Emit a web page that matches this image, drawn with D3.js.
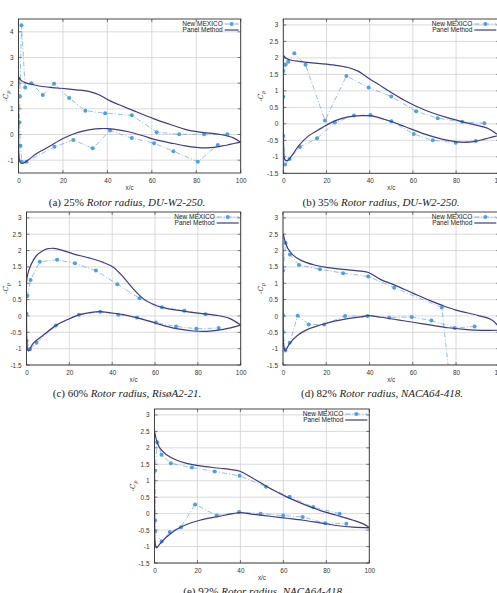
<!DOCTYPE html>
<html><head><meta charset="utf-8">
<script src="https://cdn.jsdelivr.net/npm/d3@7"></script>
<style>
html,body{margin:0;padding:0;background:#fff;overflow:hidden}
svg{display:block}
</style></head>
<body>
<script>
// ---------- DATA ----------
const xTicks = [0, 20, 40, 60, 80, 100];
const yTicksA = [-1, 0, 1, 2, 3, 4];
const yTicksB = [-1.5, -1, -0.5, 0, 0.5, 1, 1.5, 2, 2.5, 3];

const seriesNames = ["New MEXICO", "Panel Method"];

// (a) 25% DU-W2-250
const pmA = [[100,-0.3],[96.7,-0.13],[90.7,0.0],[81.7,0.09],[75,0.2],[69.7,0.35],[60.7,0.62],[51.7,0.93],[45,1.17],[41,1.32],[36.7,1.53],[32,1.67],[26,1.74],[21.7,1.78],[15,1.83],[10,1.88],[6.7,1.94],[3,2.02],[1,2.12],[0.4,2.22],[0.1,2.05],[0,1.0],[0.05,0],[0.2,-0.8],[0.7,-1.08],[1.7,-1.13],[3,-1.08],[5,-0.95],[8,-0.75],[11,-0.6],[14.2,-0.45],[18,-0.25],[21.7,-0.09],[25,0.03],[29,0.13],[33,0.2],[36.7,0.23],[40,0.23],[42.7,0.21],[47,0.15],[51.7,0.06],[56,-0.05],[60.7,-0.18],[65,-0.27],[69.7,-0.35],[75,-0.44],[80,-0.5],[84.7,-0.52],[88,-0.5],[90.7,-0.46],[94,-0.41],[97,-0.35],[100,-0.3]];
const mexA = [[94,0.01],[83.5,0.01],[72.3,0.01],[62.2,0.09],[51,0.75],[39,0.83],[30.1,0.93],[22.8,1.42],[16,1.98],[10.9,1.54],[5.8,2.0],[3,1.83],[1.35,4.26],[0.6,1.49],[0.45,0.48],[0.9,-0.44],[1.5,-1.07],[3.6,-1.06],[16.2,-0.48],[24.7,-0.21],[33.4,-0.54],[41.2,0.16],[51,-0.14],[61,-0.34],[69.7,-0.65],[80.7,-1.06],[89.7,-0.41]];

// (b) 35% DU-W2-250
const pmB = [[100,-0.35],[98.7,-0.3],[94.8,-0.14],[85.5,0.02],[76.3,0.18],[65.5,0.42],[56.2,0.71],[48.5,1.01],[44,1.2],[40,1.36],[37,1.5],[34.6,1.6],[30,1.71],[23.8,1.78],[14.5,1.84],[8,1.89],[3.7,1.93],[1,2.0],[0.3,2.06],[0,1.9],[0,1.0],[0.05,0],[0.2,-0.8],[0.6,-1.07],[1.7,-1.12],[3.7,-0.99],[6.8,-0.69],[11.4,-0.38],[17.6,-0.13],[23.8,0.09],[30,0.21],[36,0.25],[40.8,0.24],[48.5,0.1],[56.2,-0.08],[65.5,-0.31],[76.3,-0.5],[84,-0.56],[88,-0.54],[91.7,-0.49],[95,-0.43],[100,-0.35]];
const mexB = [[93.1,0.02],[82.8,0.06],[71.5,0.17],[61.5,0.38],[50,0.83],[39.5,1.1],[29.2,1.45],[19.3,0.1],[10.3,1.79],[5.1,2.14],[2.3,1.88],[1.1,1.8],[0.5,1.79],[0,1.6],[0,0.82],[0,-0.37],[0.8,-1.23],[2.9,-1.07],[7.7,-0.7],[15.6,-0.44],[23.9,0.04],[32.7,0.25],[40.3,0.27],[50,0.08],[60.4,-0.31],[69.2,-0.5],[79.8,-0.57],[89.1,-0.52]];

// (c) 60% RisoA2-21
const pmC = [[100,-0.28],[95,-0.08],[88.8,0.02],[81,0.08],[73.2,0.15],[65.4,0.23],[59.2,0.35],[54.5,0.53],[49.8,0.83],[45.2,1.19],[40.5,1.49],[35.8,1.64],[29.6,1.77],[21.8,1.9],[15.6,2.03],[12.5,2.07],[9.5,2.05],[7.8,2.0],[4.7,1.85],[1.6,1.49],[0.3,1.2],[0,1.0],[0,0],[0.2,-0.8],[0.6,-1.05],[1,-1.07],[3.1,-0.84],[7.8,-0.59],[14,-0.28],[20.2,-0.08],[24.9,0.04],[29.6,0.1],[34.3,0.13],[38.9,0.1],[45.2,0.04],[53,-0.08],[60.7,-0.23],[70,-0.39],[77.9,-0.46],[84,-0.47],[91.9,-0.41],[100,-0.28]];
const mexC = [[83.6,0.05],[73.7,0.16],[63.2,0.27],[52.8,0.54],[42.4,0.97],[32.4,1.39],[22.6,1.61],[14.3,1.72],[6.2,1.66],[1.9,1.1],[0.4,0.62],[0.1,0.6],[0,0.07],[0,-0.76],[1.6,-1.02],[4.7,-0.82],[13.7,-0.29],[24.5,0.04],[34.4,0.13],[42.8,0.04],[51.6,-0.05],[60.4,-0.2],[69.8,-0.32],[79.3,-0.39],[89.7,-0.37]];

// (d) 82% NACA64-418
const pmD = [[100,-0.43],[99,-0.27],[96,-0.1],[90,0.02],[80,0.18],[73.4,0.33],[68,0.47],[60,0.7],[51.4,0.95],[45,1.12],[39.5,1.33],[36,1.37],[30,1.41],[20.7,1.48],[14.5,1.56],[8.3,1.7],[4.5,1.87],[2.2,2.07],[0.9,2.3],[0.2,2.48],[0,2.5],[0,1.0],[0.05,0],[0.2,-0.8],[0.6,-1.0],[1.1,-1.06],[2.9,-0.86],[6.8,-0.59],[11.4,-0.41],[17.6,-0.27],[23.8,-0.16],[30,-0.08],[36.1,-0.03],[39.5,0.01],[45.4,-0.04],[53.1,-0.12],[60.8,-0.2],[68.6,-0.28],[76.3,-0.36],[84,-0.41],[91.7,-0.44],[100,-0.43]];
const mexD = [[80,-3.7],[73.4,0.26],[51.4,0.86],[39.4,1.21],[27.8,1.31],[17.1,1.43],[7.4,1.56],[3.2,1.88],[1.2,2.23],[0,1.39],[0,0.02],[0,-0.49],[1.1,-1.06],[3.1,-0.82],[6.8,0.01],[11.9,-0.26],[19,-0.26],[28.7,0.0],[39.1,0.0],[49.1,-0.05],[59.5,-0.03],[68.6,-0.14],[79.4,-0.37],[88.6,-0.32]];

// (e) 92% NACA64-418
const pmE = [[100,-0.42],[97.2,-0.31],[92.5,-0.2],[84.8,-0.05],[77,0.1],[69.3,0.29],[61.5,0.51],[53.7,0.77],[46,1.07],[39.8,1.29],[36.6,1.33],[30.4,1.38],[21.1,1.45],[14.9,1.53],[10.2,1.63],[5.6,1.79],[2.5,1.99],[0.9,2.24],[0.2,2.45],[0,2.5],[0,1.0],[0.05,0],[0.2,-0.8],[0.5,-0.98],[0.9,-1.04],[2.5,-0.92],[5.6,-0.71],[10.2,-0.48],[14.9,-0.33],[21.1,-0.2],[30.4,-0.08],[36.6,0.0],[39.8,0.03],[46,-0.02],[53.7,-0.08],[61.5,-0.14],[69.3,-0.2],[77,-0.28],[84.8,-0.36],[92.5,-0.41],[100,-0.43]];
const mexE = [[86.2,0.0],[73.9,0.2],[62.9,0.51],[51.9,0.82],[39.6,1.15],[28,1.28],[17.4,1.4],[7.6,1.53],[3.3,1.79],[1.2,2.17],[0.3,1.31],[0.3,-0.2],[0.3,-0.53],[3.3,-0.85],[7.1,-0.56],[12.3,-0.41],[18.9,0.28],[29,-0.06],[39.4,0.05],[49.4,0.0],[59.9,-0.06],[69,-0.1],[79.5,-0.29],[89.3,-0.31]];

const captions = [
  ["(a) 25% ", "Rotor radius, DU-W2-250."],
  ["(b) 35% ", "Rotor radius, DU-W2-250."],
  ["(c) 60% ", "Rotor radius, RisøA2-21."],
  ["(d) 82% ", "Rotor radius, NACA64-418."],
  ["(e) 92% ", "Rotor radius, NACA64-418."]
];

// ---------- LAYOUT ----------
const panels = [
  {pm: pmA, mex: mexA, yDom: [-1.5, 4.5], yTicks: yTicksA, L: 18.5, R: 240.7, T: 19, B: 173, cap: captions[0], capX: 127, capY: 206, legOff: 18, ylabX: 4},
  {pm: pmB, mex: mexB, yDom: [-1.5, 3.18], yTicks: yTicksB, L: 283.3, R: 499.3, T: 19, B: 173.3, cap: captions[1], capX: 381, capY: 206, legOff: 27, ylabX: 259},
  {pm: pmC, mex: mexC, yDom: [-1.5, 3.18], yTicks: yTicksB, L: 26.5, R: 240.7, T: 212, B: 365, cap: captions[2], capX: 127, capY: 397, legOff: 26, ylabX: 4},
  {pm: pmD, mex: mexD, yDom: [-1.5, 3.18], yTicks: yTicksB, L: 283, R: 499.3, T: 212, B: 365, cap: captions[3], capX: 382, capY: 397, legOff: 27, ylabX: 259},
  {pm: pmE, mex: mexE, yDom: [-1.5, 3.18], yTicks: yTicksB, L: 154.5, R: 369.3, T: 409, B: 563, cap: captions[4], capX: 264, capY: 595, legOff: 26, ylabX: 131}
];

const W = 497, H = 593;
const svg = d3.select("body").append("svg").attr("width", W).attr("height", H);

const mexColor = "#4f9fe6";
const pmColor = "#3d3b8e";
const tickFont = "Liberation Sans, Arial, sans-serif";

panels.forEach((p, i) => {
  const x = d3.scaleLinear().domain([0, 100]).range([p.L, p.R]);
  const y = d3.scaleLinear().domain(p.yDom).range([p.B, p.T]);
  const g = svg.append("g");

  const clipId = "clip" + i;
  svg.append("clipPath").attr("id", clipId).append("rect")
    .attr("x", p.L).attr("y", p.T).attr("width", p.R - p.L).attr("height", p.B - p.T);

  // grid
  const grid = g.append("g").attr("stroke", "#d0d0d0").attr("stroke-width", 0.8);
  xTicks.forEach(t => grid.append("line").attr("x1", x(t)).attr("x2", x(t)).attr("y1", p.T).attr("y2", p.B));
  p.yTicks.forEach(t => grid.append("line").attr("x1", p.L).attr("x2", p.R).attr("y1", y(t)).attr("y2", y(t)));

  // axes (labels only)
  const xAxis = d3.axisBottom(x).tickValues(xTicks).tickSize(0).tickPadding(5).tickFormat(d3.format("d"));
  const gx = g.append("g").attr("transform", `translate(0,${p.B})`).call(xAxis);
  const yAxis = d3.axisLeft(y).tickValues(p.yTicks).tickSize(0).tickPadding(5).tickFormat(d => String(d));
  const gy = g.append("g").attr("transform", `translate(${p.L},0)`).call(yAxis);
  [gx, gy].forEach(a => {
    a.select(".domain").remove();
    a.selectAll("text").attr("font-family", tickFont).attr("font-size", 6.4).attr("fill", "#333");
  });

  // small inner ticks
  const tk = g.append("g").attr("stroke", "#444").attr("stroke-width", 0.7);
  xTicks.forEach(t => {
    tk.append("line").attr("x1", x(t)).attr("x2", x(t)).attr("y1", p.B).attr("y2", p.B - 3);
    tk.append("line").attr("x1", x(t)).attr("x2", x(t)).attr("y1", p.T).attr("y2", p.T + 3);
  });
  p.yTicks.forEach(t => {
    tk.append("line").attr("x1", p.L).attr("x2", p.L + 3).attr("y1", y(t)).attr("y2", y(t));
    tk.append("line").attr("x1", p.R).attr("x2", p.R - 3).attr("y1", y(t)).attr("y2", y(t));
  });

  const plot = g.append("g").attr("clip-path", `url(#${clipId})`);

  // New MEXICO
  const lineM = d3.line().x(d => x(d[0])).y(d => y(d[1]));
  plot.append("path").datum(p.mex).attr("d", lineM)
    .attr("fill", "none").attr("stroke", mexColor).attr("stroke-width", 0.75)
    .attr("stroke-dasharray", "5,2,1,2").attr("opacity", 0.85);
  plot.selectAll("circle.m").data(p.mex).enter().append("circle")
    .attr("cx", d => x(d[0])).attr("cy", d => y(d[1])).attr("r", 2)
    .attr("fill", mexColor);

  // Panel method
  const lineP = d3.line().x(d => x(d[0])).y(d => y(d[1])).curve(d3.curveCatmullRom.alpha(0.5));
  plot.append("path").datum(p.pm).attr("d", lineP)
    .attr("fill", "none").attr("stroke", pmColor).attr("stroke-width", 1.2);

  // border
  g.append("rect").attr("x", p.L).attr("y", p.T).attr("width", p.R - p.L).attr("height", p.B - p.T)
    .attr("fill", "none").attr("stroke", "#333").attr("stroke-width", 0.9);

  // legend
  const lx = p.R - p.legOff;
  const leg = g.append("g").attr("font-family", tickFont).attr("font-size", 6.5).attr("fill", "#222");
  leg.append("text").attr("x", lx).attr("y", p.T + 7).attr("text-anchor", "end").text(seriesNames[0]);
  leg.append("text").attr("x", lx).attr("y", p.T + 13).attr("text-anchor", "end").text(seriesNames[1]);
  const sl = lx + 2, sr = lx + (p.legOff > 20 ? 24 : 16);
  leg.append("line").attr("x1", sl).attr("x2", sr).attr("y1", p.T + 5).attr("y2", p.T + 5)
    .attr("stroke", mexColor).attr("stroke-width", 0.75).attr("stroke-dasharray", "5,2,1,2");
  leg.append("circle").attr("cx", (sl + sr) / 2).attr("cy", p.T + 5).attr("r", 2).attr("fill", mexColor);
  leg.append("line").attr("x1", sl).attr("x2", sr).attr("y1", p.T + 11).attr("y2", p.T + 11)
    .attr("stroke", pmColor).attr("stroke-width", 1.2);

  // axis labels
  g.append("text").attr("x", (p.L + p.R) / 2).attr("y", p.B + 17).attr("text-anchor", "middle")
    .attr("font-family", tickFont).attr("font-size", 6.3).attr("fill", "#333").text("x/c");
  const yl = g.append("text").attr("transform", `translate(${p.ylabX + 4},${(p.T + p.B) / 2}) rotate(-90)`)
    .attr("text-anchor", "middle").attr("font-family", "DejaVu Serif, serif").attr("font-style", "italic")
    .attr("font-size", 7).attr("fill", "#333");
  yl.append("tspan").text("-C");
  yl.append("tspan").attr("font-size", 5).attr("dy", 2).text("p");

  // caption
  const cap = g.append("text").attr("x", p.capX).attr("y", p.capY).attr("text-anchor", "middle")
    .attr("font-family", "Liberation Serif, DejaVu Serif, serif").attr("font-size", 11).attr("fill", "#222");
  cap.append("tspan").text(p.cap[0]);
  cap.append("tspan").attr("font-style", "italic").text(p.cap[1]);
});
</script>
</body></html>
